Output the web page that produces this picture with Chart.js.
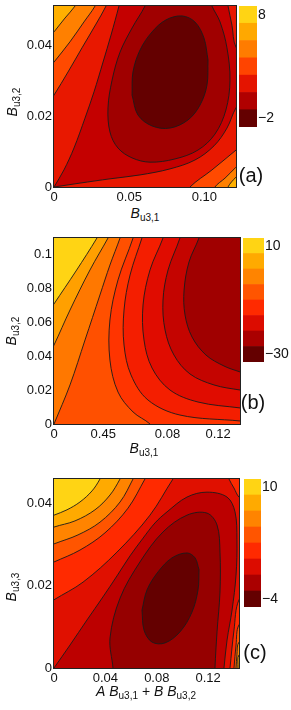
<!DOCTYPE html>
<html>
<head>
<meta charset="utf-8">
<script src="https://cdn.jsdelivr.net/npm/chart.js"></script>
<style>
  body { margin:0; background:#fff; width:291px; height:710px; position:relative; overflow:hidden;
         font-family:"Liberation Sans", Arial, sans-serif; color:#111; }
  canvas { position:absolute; }
  .t { position:absolute; font-size:14px; line-height:14px; white-space:nowrap; transform:translate(-50%,-50%); }
  .t.rot { transform:translate(-50%,-50%) rotate(-90deg); }
  .t sub { font-size:10px; vertical-align:-3px; line-height:0; }
  .tag { position:absolute; font-size:20px; line-height:20px; transform:translate(-50%,-50%); }
</style>
</head>
<body>
<canvas id="plotA" width="240" height="205" style="left:0;top:0"></canvas>
<canvas id="barA" width="48" height="121" style="left:239px;top:6px"></canvas>
<canvas id="plotB" width="244" height="220" style="left:0;top:225px"></canvas>
<canvas id="barB" width="51" height="124" style="left:243px;top:238px"></canvas>
<canvas id="plotC" width="243" height="220" style="left:0;top:470px"></canvas>
<canvas id="barC" width="47" height="128" style="left:244px;top:479px"></canvas>

<div class="t" style="left:145px;top:213px"><i>B</i><sub>u3,1</sub></div>
<div class="t rot" style="left:12px;top:102px"><i>B</i><sub>u3,2</sub></div>
<div class="tag" style="left:251px;top:175px">(a)</div>
<div class="t" style="left:144px;top:448px"><i>B</i><sub>u3,1</sub></div>
<div class="t rot" style="left:11px;top:331px"><i>B</i><sub>u3,2</sub></div>
<div class="tag" style="left:253px;top:402px">(b)</div>
<div class="t" style="left:146px;top:691px"><i>A</i> <i>B</i><sub>u3,1</sub> + <i>B</i> <i>B</i><sub>u3,2</sub></div>
<div class="t rot" style="left:11px;top:587px"><i>B</i><sub>u3,3</sub></div>
<div class="tag" style="left:255px;top:652px">(c)</div>

<script>
// ---------- panel (a) ----------
const aXTicks = [0, 0.05, 0.10];
const aXLabels = ['0', '0.05', '0.10'];
const aYTicks = [0, 0.02, 0.04];
const aYLabels = ['0', '0.02', '0.04'];
// sublevel regions, outermost first (each starts far left and ends far right outside the frame)
const aRegionE = [[-0.02,-0.005],[-0.0053,0.0409],[0,0.0437],[0.0073,0.0476],[0.0140,0.0510],[0.0166,0.0533],[0.14,0.056],[0.127,0.0052],[0.1210,0.0028],[0.1157,0],[0.1150,-0.0023],[0.14,-0.005]];
const aRegionD = [[-0.02,-0.005],[-0.0053,0.0324],[0,0.0352],[0.0106,0.0409],[0.0199,0.0465],[0.0273,0.0510],[0.0299,0.0538],[0.14,0.056],[0.127,0.0082],[0.1210,0.0056],[0.1137,0.0025],[0.1070,0],[0.1057,-0.0023],[0.14,-0.005]];
const aRegionC = [[-0.02,-0.005],[-0.0047,0.0231],[0,0.0259],[0.0093,0.0324],[0.0186,0.0392],[0.0279,0.0459],[0.0346,0.0510],[0.0366,0.0533],[0.14,0.056],[0.1276,0.0127],[0.1210,0.0104],[0.1050,0.0048],[0.0904,0],[0.0884,-0.0023],[0.14,-0.005]];
const aRegionB = [[-0.02,0.056],[0.0445,0.0533],[0.0432,0.0510],[0.0379,0.0428],[0.0326,0.0352],[0.0266,0.0268],[0.0206,0.0194],[0.0133,0.0110],[0.0066,0.0048],[0,0],[0,0],[0.0173,0.0011],[0.0372,0.0023],[0.0572,0.0034],[0.0771,0.0051],[0.0937,0.0076],[0.1064,0.0116],[0.1150,0.0166],[0.1210,0.0223],[0.1276,0.0256],[0.1276,0.0380],[0.1210,0.0394],[0.1183,0.0456],[0.1157,0.0510],[0.1147,0.0535],[0.14,0.056]];
const aRegionA = [[-0.02,0.056],[0.0632,0.0544],[0.0605,0.0510],[0.0519,0.0448],[0.0439,0.0380],[0.0386,0.0301],[0.0359,0.0223],[0.0372,0.0155],[0.0425,0.0110],[0.0519,0.0082],[0.0638,0.0070],[0.0804,0.0079],[0.0957,0.0104],[0.1070,0.0149],[0.1143,0.0217],[0.1170,0.0301],[0.1150,0.0392],[0.1104,0.0465],[0.1050,0.0510],[0.1024,0.0544],[0.14,0.056]];
const aCoreUpper = [[0.0519,0.0259],[0.0525,0.0324],[0.0572,0.0386],[0.0652,0.0437],[0.0745,0.0471],[0.0851,0.0482],[0.0937,0.0465],[0.0997,0.0420],[0.1024,0.0358]];
const aCoreLower = [[0.0519,0.0259],[0.0558,0.0203],[0.0652,0.0172],[0.0771,0.0166],[0.0891,0.0189],[0.0971,0.0231],[0.1017,0.0287],[0.1024,0.0358]];
const aBarColors = ['#640000','#b00000','#e41400','#ff4400','#ff7c00','#ffa800','#ffd414'];
const aBarLabels = ['\u22122', '8'];

// ---------- panel (b) ----------
const bXTicks = [0, 0.036, 0.083, 0.12];
const bXLabels = ['0', '0.45', '0.08', '0.12'];
const bYTicks = [0, 0.02, 0.04, 0.06, 0.08, 0.1];
const bYLabels = ['0', '0.02', '0.04', '0.06', '0.08', '0.1'];
const bRegion2 = [[-0.02,-0.01],[-0.0066,0.0627],[0,0.0710],[0.0161,0.0905],[0.0314,0.1100],[0.0351,0.1159],[0.16,0.125],[0.16,-0.01]];
const bRegion3 = [[-0.02,-0.01],[-0.0066,0.0367],[0,0.0467],[0.0117,0.0674],[0.0263,0.0911],[0.0395,0.1100],[0.0431,0.1159],[0.16,0.125],[0.16,-0.01]];
const bRegion4 = [[-0.02,-0.01],[-0.004,-0.0095],[0,0],[0,0],[0.0117,0.0231],[0.0227,0.0497],[0.0336,0.0763],[0.0409,0.0940],[0.0483,0.1100],[0.0505,0.1159],[0.16,0.125],[0.16,-0.01]];
const bRegion5 = [[-0.02,0.125],[0.0592,0.1159],[0.0578,0.1100],[0.0468,0.0852],[0.0409,0.0615],[0.0409,0.0378],[0.0468,0.0189],[0.0578,0.0071],[0.0702,0],[0.0760,-0.0065],[0.16,-0.01],[0.16,0.125]];
const bRegion6 = [[-0.02,0.125],[0.0665,0.1159],[0.0643,0.1100],[0.0556,0.0881],[0.0512,0.0674],[0.0512,0.0467],[0.0563,0.0290],[0.0687,0.0142],[0.0921,0.0053],[0.1360,0.0018],[0.1433,0.0012],[0.16,0.125]];
const bRegion7 = [[-0.02,0.125],[0.0812,0.1159],[0.0797,0.1100],[0.0702,0.0911],[0.0651,0.0704],[0.0658,0.0497],[0.0717,0.0331],[0.0848,0.0201],[0.1053,0.0130],[0.1360,0.0095],[0.1433,0.0089],[0.16,0.125]];
const bRegion8 = [[-0.02,0.125],[0.0936,0.1159],[0.0921,0.1100],[0.0834,0.0911],[0.0797,0.0733],[0.0812,0.0556],[0.0877,0.0408],[0.0994,0.0296],[0.1170,0.0231],[0.1360,0.0201],[0.1433,0.0195],[0.16,0.125]];
const bRegion9 = [[-0.02,0.125],[0.1075,0.1159],[0.1060,0.1100],[0.0987,0.0958],[0.0951,0.0792],[0.0958,0.0645],[0.1009,0.0515],[0.1111,0.0408],[0.1243,0.0343],[0.1360,0.0308],[0.1433,0.0290],[0.16,0.125]];
const bRegion10 = [[-0.02,0.125],[0.1258,0.1159],[0.1228,0.1100],[0.1141,0.0999],[0.1097,0.0881],[0.1089,0.0763],[0.1119,0.0645],[0.1192,0.0544],[0.1287,0.0479],[0.1360,0.0444],[0.1433,0.0414],[0.16,0.125]];
const bBarColors = ['#640000','#aa0000','#dc0c00','#ff2a00','#ff5500','#ff8400','#ffaa00','#ffd414'];
const bBarLabels = ['\u221230', '10'];

// ---------- panel (c) ----------
const cXTicks = [0, 0.04, 0.08, 0.12];
const cXLabels = ['0', '0.04', '0.08', '0.12'];
const cYTicks = [0, 0.02, 0.04];
const cYLabels = ['0', '0.02', '0.04'];
const cRegionA = [[-0.02,-0.006],[-0.0070,0.0363],[0,0.0372],[0.0101,0.0385],[0.0202,0.0404],[0.0296,0.0431],[0.0358,0.0460],[0.0389,0.0482],[0.16,0.055],[0.16,-0.006]];
const cRegionO = [[-0.02,-0.006],[-0.0070,0.0333],[0,0.0343],[0.0163,0.0358],[0.0319,0.0385],[0.0436,0.0421],[0.0514,0.0460],[0.0545,0.0482],[0.16,0.055],[0.1526,0.0044],[0.1440,0.0032],[0.1432,0],[0.1424,-0.0024],[0.16,-0.006]];
const cRegionOR = [[-0.02,-0.006],[-0.0070,0.0292],[0,0.0302],[0.0187,0.0324],[0.0358,0.0355],[0.0514,0.0404],[0.0615,0.0460],[0.0646,0.0482],[0.16,0.055],[0.1526,0.0073],[0.1440,0.0063],[0.1424,0.0032],[0.1417,0],[0.1409,-0.0024],[0.16,-0.006]];
const cRegionR2 = [[-0.02,-0.006],[-0.0070,0.0248],[0,0.0258],[0.0202,0.0287],[0.0397,0.0329],[0.0576,0.0389],[0.0708,0.0460],[0.0747,0.0482],[0.16,0.055],[0.1526,0.0117],[0.1440,0.0105],[0.1417,0.0056],[0.1401,0],[0.1393,-0.0024],[0.16,-0.006]];
const cRegionR = [[-0.02,-0.006],[-0.0070,0.0151],[0,0.0166],[0.0226,0.0209],[0.0490,0.0282],[0.0747,0.0372],[0.0926,0.0460],[0.0981,0.0482],[0.1339,0.0482],[0.1362,0.0460],[0.1401,0.0438],[0.1440,0.0416],[0.1526,0.0397],[0.1526,0.0178],[0.1440,0.0166],[0.1401,0.0092],[0.1370,0],[0.1362,-0.0024],[0.16,-0.006]];
const cRegionD2 = [[-0.02,-0.006],[-0.0054,-0.0024],[0,0],[0,0],[0.0125,0.0056],[0.0257,0.0117],[0.0381,0.0173],[0.0490,0.0224],[0.0592,0.0273],[0.0693,0.0316],[0.0786,0.0353],[0.0880,0.0380],[0.1035,0.0416],[0.1191,0.0428],[0.1347,0.0416],[0.1409,0.0380],[0.1424,0.0312],[0.1417,0.0226],[0.1386,0.0141],[0.1347,0.0068],[0.1323,0],[0.1315,-0.0024],[0.16,-0.006]];
const cRegionD1 = [[-0.02,-0.006],[0.0459,-0.0024],[0.0459,0],[0.0436,0.0073],[0.0514,0.0170],[0.0669,0.0258],[0.0848,0.0331],[0.1035,0.0372],[0.1191,0.0377],[0.1269,0.0348],[0.1292,0.0282],[0.1292,0.0185],[0.1269,0.0088],[0.1253,0],[0.1253,-0.0024],[0.16,-0.006]];
const cCoreUpper = [[0.0685,0.0141],[0.0724,0.0190],[0.0810,0.0234],[0.0918,0.0268],[0.1035,0.0280],[0.1098,0.0268],[0.1129,0.0239]];
const cCoreLower = [[0.0685,0.0141],[0.0701,0.0092],[0.0763,0.0063],[0.0864,0.0061],[0.0981,0.0088],[0.1074,0.0136],[0.1121,0.0190],[0.1129,0.0239]];
const cBarColors = ['#640000','#aa0000','#dc0c00','#ff2a00','#ff5500','#ff8400','#ffaa00','#ffd414'];
const cBarLabels = ['\u22124', '10'];

const tickFont = { family: '"Liberation Sans", Arial, sans-serif', size: 13 };
const lineColor = '#1b1b1b';

// plot background and black frame
const framePlugin = {
  id: 'frame',
  beforeDatasetsDraw(chart, args, opts) {
    const a = chart.chartArea, ctx = chart.ctx;
    ctx.save();
    ctx.fillStyle = opts.bg;
    ctx.fillRect(a.left, a.top, a.right - a.left, a.bottom - a.top);
    ctx.restore();
  },
  afterDatasetsDraw(chart) {
    const a = chart.chartArea, ctx = chart.ctx;
    ctx.save();
    ctx.strokeStyle = '#222';
    ctx.lineWidth = 1;
    ctx.strokeRect(a.left - 0.5, a.top - 0.5, a.right - a.left + 1, a.bottom - a.top + 1);
    ctx.restore();
  }
};

function toXY(pts) { return pts.map(p => ({ x: p[0], y: p[1] })); }

function contourPlot(id, cfg) {
  const datasets = cfg.regions.map((pts, i) => ({
    data: toXY(pts),
    backgroundColor: cfg.colors[i],
    borderColor: lineColor, borderWidth: 0.9, borderJoinStyle: 'round',
    fill: 'shape', tension: 0.35, pointRadius: 0,
    order: cfg.regions.length - i + 1
  }));
  datasets.push({
    data: toXY(cfg.coreUpper), backgroundColor: cfg.coreColor,
    borderColor: lineColor, borderWidth: 0.9, fill: '+1', tension: 0.35, pointRadius: 0, order: 0
  });
  datasets.push({
    data: toXY(cfg.coreLower),
    borderColor: lineColor, borderWidth: 0.9, fill: false, tension: 0.35, pointRadius: 0, order: -1
  });

  new Chart(document.getElementById(id), {
    type: 'line',
    data: { datasets },
    options: {
      responsive: false, animation: false, events: [],
      layout: { padding: { top: cfg.padTop, right: cfg.padRight, left: 0, bottom: 0 } },
      plugins: { legend: { display: false }, tooltip: { enabled: false }, frame: { bg: cfg.bg } },
      scales: {
        x: {
          type: 'linear', min: 0, max: cfg.xMax,
          afterBuildTicks: s => { s.ticks = cfg.xTicks.map(v => ({ value: v })); },
          afterFit: s => { s.height = cfg.xHeight; s.paddingLeft = 0; s.paddingRight = 0; },
          ticks: { callback: (v, i) => cfg.xLabels[i], font: tickFont, color: '#111', padding: 3, maxRotation: 0, autoSkip: false },
          grid: { display: false, drawTicks: false }, border: { display: false }
        },
        y: {
          type: 'linear', min: 0, max: cfg.yMax,
          afterBuildTicks: s => { s.ticks = cfg.yTicks.map(v => ({ value: v })); },
          afterFit: s => { s.width = 54; s.paddingTop = 0; s.paddingBottom = 0; },
          ticks: { callback: (v, i) => cfg.yLabels[i], font: tickFont, color: '#111', padding: 2, autoSkip: false },
          grid: { display: false, drawTicks: false }, border: { display: false }
        }
      }
    },
    plugins: [framePlugin]
  });
}

function colorBar(id, colors, labels) {
  const n = colors.length;
  new Chart(document.getElementById(id), {
    type: 'bar',
    data: {
      labels: [''],
      datasets: colors.map(c => ({ data: [1], backgroundColor: c, borderWidth: 0, barPercentage: 1, categoryPercentage: 1 }))
    },
    options: {
      responsive: false, animation: false, events: [],
      layout: { padding: 0 },
      plugins: { legend: { display: false }, tooltip: { enabled: false } },
      scales: {
        x: { display: false, stacked: true },
        y: {
          stacked: true, min: 0, max: n, position: 'right',
          afterBuildTicks: s => { s.ticks = [{ value: 0.5 }, { value: n - 0.5 }]; },
          afterFit: s => { s.width = 30; s.paddingTop = 0; s.paddingBottom = 0; },
          ticks: { callback: (v, i) => labels[i], font: { family: tickFont.family, size: 14 }, color: '#111', padding: 1 },
          grid: { display: false, drawTicks: false }, border: { display: false }
        }
      }
    }
  });
}

contourPlot('plotA', {
  regions: [aRegionE, aRegionD, aRegionC, aRegionB, aRegionA],
  colors: ['#ff8000', '#ff4a00', '#e81800', '#c40000', '#a00000'],
  bg: '#ffb000', coreUpper: aCoreUpper, coreLower: aCoreLower, coreColor: '#640000',
  xMax: 0.121, yMax: 0.051, xTicks: aXTicks, xLabels: aXLabels, yTicks: aYTicks, yLabels: aYLabels,
  padTop: 6, padRight: 4, xHeight: 18
});
colorBar('barA', aBarColors, aBarLabels);

contourPlot('plotB', {
  regions: [bRegion2, bRegion3, bRegion4, bRegion5, bRegion6, bRegion7, bRegion8, bRegion9],
  colors: ['#ffa000', '#ff7800', '#ff5000', '#ff3400', '#f41e00', '#e00c00', '#c40400', '#a00000'],
  bg: '#ffd414', coreUpper: [], coreLower: [], coreColor: '#640000',
  xMax: 0.136, yMax: 0.11, xTicks: bXTicks, xLabels: bXLabels, yTicks: bYTicks, yLabels: bYLabels,
  padTop: 13, padRight: 4, xHeight: 21
});
colorBar('barB', bBarColors, bBarLabels);

contourPlot('plotC', {
  regions: [cRegionA, cRegionO, cRegionOR, cRegionR2, cRegionR, cRegionD2, cRegionD1],
  colors: ['#ffaa00', '#ff8400', '#ff5500', '#ff2a00', '#e01000', '#bc0000', '#960000'],
  bg: '#ffd414', coreUpper: cCoreUpper, coreLower: cCoreLower, coreColor: '#640000',
  xMax: 0.144, yMax: 0.046, xTicks: cXTicks, xLabels: cXLabels, yTicks: cYTicks, yLabels: cYLabels,
  padTop: 9, padRight: 4, xHeight: 22
});
colorBar('barC', cBarColors, cBarLabels);
</script>
</body>
</html>
